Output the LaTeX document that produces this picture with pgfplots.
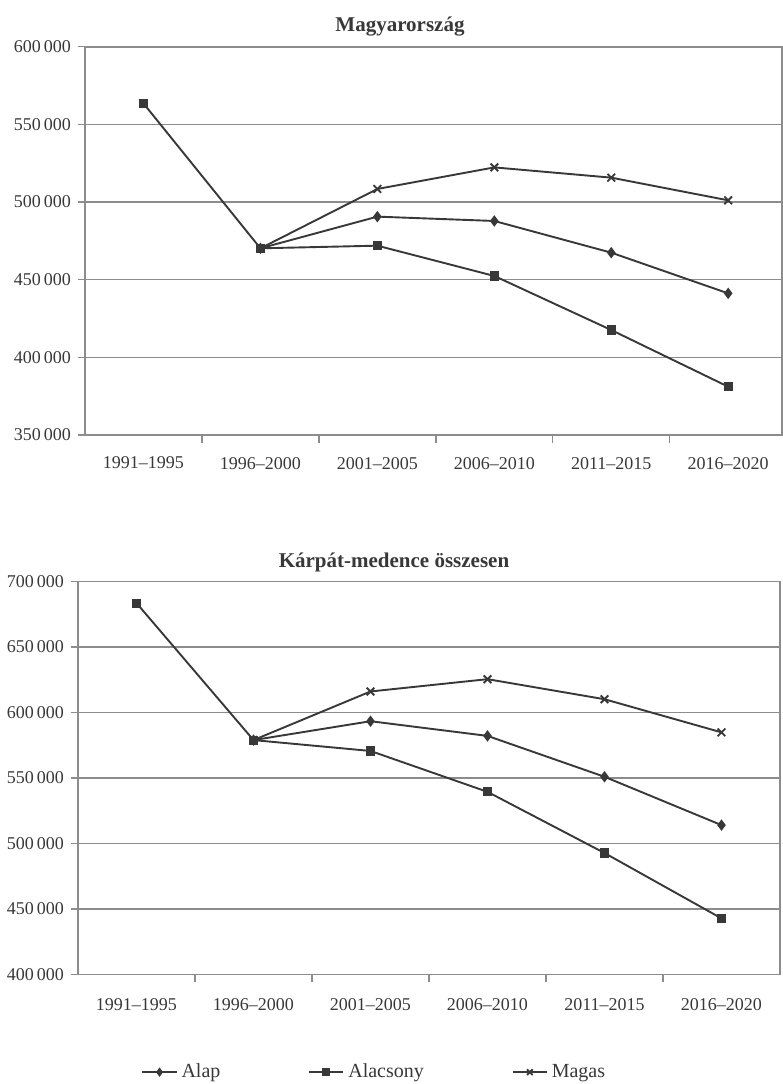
\documentclass[border=0pt]{standalone}
\usepackage{fontspec}
\setmainfont{Liberation Serif}
\usepackage{pgfplots}
\pgfplotsset{compat=1.18}

\definecolor{ink}{gray}{0.22}
\definecolor{gridc}{gray}{0.55}

\pgfplotsset{
  kp/.style={
    scale only axis,
    anchor=north west,
    xmin=-0.5,
    xtick={0,...,5},
    xticklabels={1991--1995,1996--2000,2001--2005,2006--2010,2011--2015,2016--2020},
    minor xtick={0.5,1.5,2.5,3.5,4.5},
    xtick pos=bottom,
    ytick pos=left,
    major x tick style={draw=none},
    minor x tick style={draw=gridc, line width=0.7pt},
    minor tick length=4pt,
    major tick length=3.5pt,
    tick align=outside,
    scaled y ticks=false,
    ymajorgrids,
    major grid style={gridc, line width=0.8pt},
    axis line style={gridc, line width=0.8pt},
    y tick style={draw=gridc, line width=0.7pt},
    ticklabel style={font=\fontsize{9}{10}\selectfont, text=ink},
    every axis plot/.append style={ink, line width=0.95pt, mark options={solid, fill=ink}},
  },
  alap/.style={mark=diamond*, mark size=2.1pt},
  alacs/.style={mark=square*, mark size=1.8pt},
  magas/.style={mark=x, mark size=2.7pt},
}

\begin{document}
\begin{tikzpicture}
\path[use as bounding box] (0,0) rectangle (391.5pt,-542pt);

% Magyarorszag
\begin{axis}[kp,
  at={(42.5pt,-23.35pt)},
  width=348.5pt, height=194.15pt,
  xmax=5.46,
  ymin=350000, ymax=600000,
  ytick={350000,400000,450000,500000,550000,600000},
  yticklabels={350\,000,400\,000,450\,000,500\,000,550\,000,600\,000},
  xticklabel style={yshift=-4pt},
]
\addplot[magas] coordinates {(1,470200) (2,508400) (3,522300) (4,515700) (5,501100)};
\addplot[alap] coordinates {(1,470200) (2,490600) (3,487800) (4,467400) (5,441200)};
\addplot[alacs] coordinates {(0,563500) (1,470200) (2,471900) (3,452400) (4,417600) (5,381100)};
\end{axis}
\node[font=\bfseries\fontsize{10.5}{12}\selectfont, text=ink] at (200pt,-13.5pt) {Magyarország};

% Karpat-medence
\begin{axis}[kp,
  at={(39pt,-290.65pt)},
  width=351pt, height=196.5pt,
  xmax=5.5,
  ymin=400000, ymax=700000,
  ytick={400000,450000,500000,550000,600000,650000,700000},
  yticklabels={400\,000,450\,000,500\,000,550\,000,600\,000,650\,000,700\,000},
  xticklabel style={yshift=-5pt},
  legend columns=3,
  legend style={at={(0.09,-0.249)}, anchor=west, draw=none, fill=none,
    inner sep=0pt, font=\fontsize{10}{12}\selectfont, text=ink,
    /tikz/every even column/.append style={column sep=42pt}},
  legend cell align=left,
]
\addlegendimage{ink, line width=0.9pt, alap, mark options={solid, fill=ink, mark size=1.6pt}}
\addlegendentry{Alap}
\addlegendimage{ink, line width=0.9pt, alacs, mark options={solid, fill=ink, mark size=1.6pt}}
\addlegendentry{Alacsony}
\addlegendimage{ink, line width=0.9pt, magas, mark options={solid, mark size=2pt}}
\addlegendentry{Magas}
\addplot[magas, forget plot] coordinates {(1,578800) (2,615900) (3,625300) (4,610000) (5,584700)};
\addplot[alap, forget plot] coordinates {(1,578800) (2,593200) (3,582000) (4,550800) (5,513900)};
\addplot[alacs, forget plot] coordinates {(0,683400) (1,578800) (2,570500) (3,539300) (4,492600) (5,442700)};
\end{axis}
\node[font=\bfseries\fontsize{10.5}{12}\selectfont, text=ink] at (197pt,-281.4pt) {Kárpát-medence összesen};
\end{tikzpicture}
\end{document}
